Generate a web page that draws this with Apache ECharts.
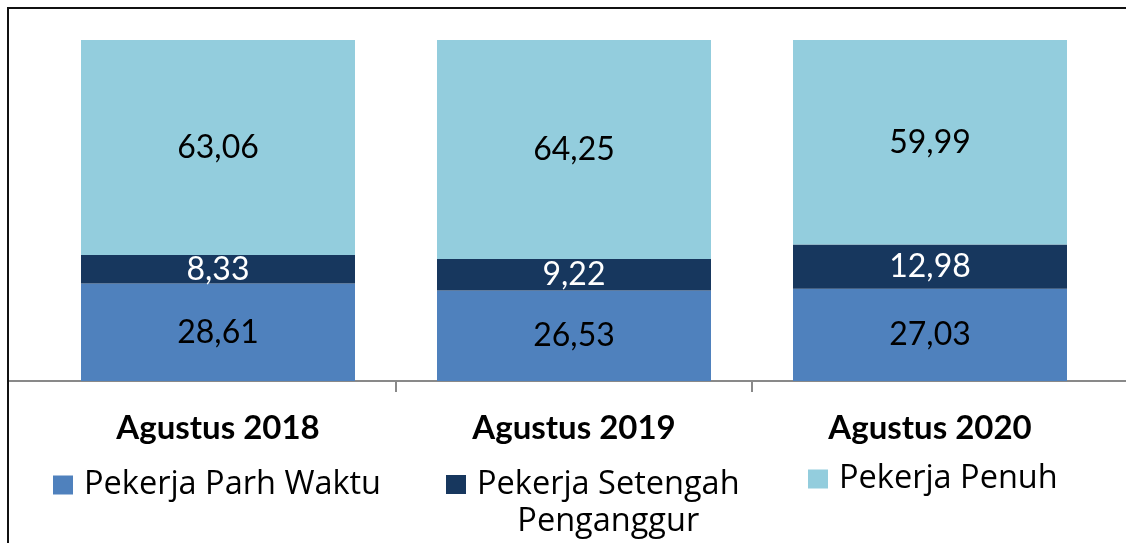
<!DOCTYPE html>
<html>
<head>
<meta charset="utf-8">
<script src="https://cdn.jsdelivr.net/npm/echarts@6/dist/echarts.min.js"></script>
<style>
html,body{margin:0;padding:0;background:#fff;}
#c{width:1126px;height:543px;}
</style>
</head>
<body>
<div id="c"></div>
<script>
const categories = ['Agustus 2018', 'Agustus 2019', 'Agustus 2020'];
const seriesNames = ['Pekerja Parh Waktu', 'Pekerja Setengah Penganggur', 'Pekerja Penuh'];
const paruhWaktu = [28.61, 26.53, 27.03];
const setengahPenganggur = [8.33, 9.22, 12.98];
const penuh = [63.06, 64.25, 59.99];

const colors = ['#4F81BD', '#17375E', '#93CDDD'];
const labelColors = ['#000', '#fff', '#000'];
const values = [paruhWaktu, setengahPenganggur, penuh];
const FONT = 'Lato';
const LFONT = 'Open Sans';

const chart = echarts.init(document.getElementById('c'));

const series = values.map((v, i) => ({
  name: seriesNames[i],
  type: 'bar',
  stack: 'total',
  data: v,
  barWidth: 274,
  itemStyle: { color: colors[i] },
  label: {
    show: true,
    position: 'inside',
    formatter: p => p.value.toFixed(2).replace('.', ','),
    color: labelColors[i],
    fontFamily: FONT,
    fontSize: 32
  },
  emphasis: { disabled: true }
}));

const legendBase = {
  orient: 'horizontal',
  padding: 0,
  itemWidth: 20,
  itemHeight: 19,
  icon: 'rect',
  selectedMode: false,
  textStyle: { fontFamily: LFONT, fontSize: 32.5, color: '#000', lineHeight: 36, padding: [0, 0, 0, 6] }
};

const option = {
  animation: false,
  backgroundColor: '#fff',
  grid: { left: 40, right: 18, top: 40, bottom: 162, containLabel: false },
  xAxis: [{
    type: 'category',
    data: categories,
    axisLine: { show: true, lineStyle: { color: '#898989', width: 2 } },
    axisTick: { show: false },
    axisLabel: { fontFamily: FONT, fontWeight: 'bold', fontSize: 33, color: '#000', margin: 31 }
  }, {
    type: 'value',
    gridIndex: 0,
    position: 'bottom',
    min: 0,
    max: 3,
    interval: 1,
    axisLine: { show: false },
    splitLine: { show: false },
    axisLabel: { show: false },
    axisTick: { show: true, customValues: [1, 2], length: 11, lineStyle: { color: '#898989', width: 2 } }
  }],
  yAxis: {
    type: 'value', min: 0, max: 100, show: false
  },
  legend: [
    Object.assign({}, legendBase, { data: [seriesNames[0]], left: 53, top: 467 }),
    Object.assign({}, legendBase, {
      data: [seriesNames[1]], left: 446, top: 468,
      formatter: name => {
        const i = name.lastIndexOf(' ');
        return '{a|' + name.slice(0, i) + '}\n{b|' + name.slice(i + 1) + '}';
      },
      textStyle: {
        padding: [37, 0, 0, 6],
        rich: {
          a: { fontFamily: LFONT, fontSize: 32.5, color: '#000', lineHeight: 37 },
          b: { fontFamily: LFONT, fontSize: 32.5, color: '#000', lineHeight: 37, align: 'center' }
        }
      }
    }),
    Object.assign({}, legendBase, { data: [seriesNames[2]], left: 808, top: 461 })
  ],
  graphic: [
    { type: 'rect', silent: true, z: 100, shape: { x: 8, y: 8, width: 1200, height: 600 }, style: { fill: 'none', stroke: '#111', lineWidth: 2 } },
    { type: 'line', silent: true, shape: { x1: 8, y1: 381, x2: 40, y2: 381 }, style: { stroke: '#898989', lineWidth: 2 } },
    { type: 'line', silent: true, shape: { x1: 1108, y1: 381, x2: 1126, y2: 381 }, style: { stroke: '#898989', lineWidth: 2 } }
  ],
  series: series
};
chart.setOption(option);
</script>
</body>
</html>
